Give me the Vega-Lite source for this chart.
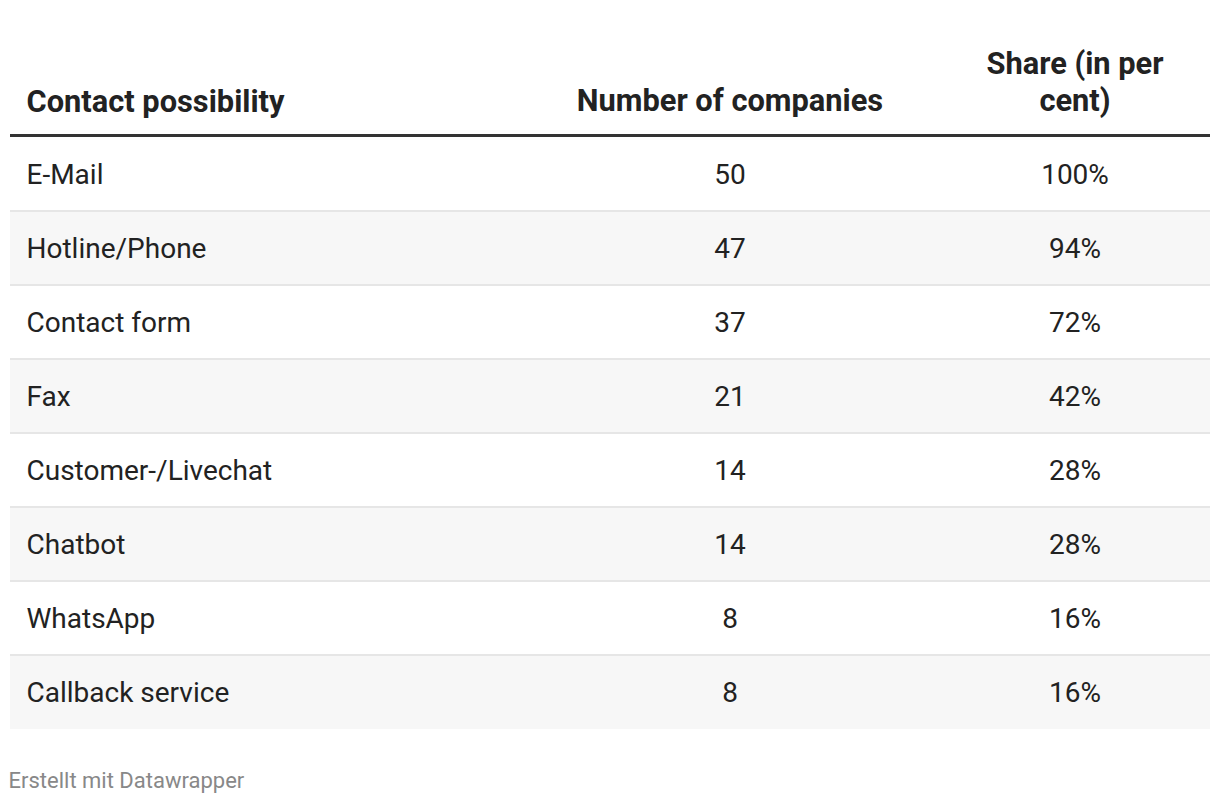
{
  "$schema": "https://vega.github.io/schema/vega-lite/v6.json",
  "autosize": "none",
  "width": 1200,
  "height": 592,
  "padding": {"left": 10, "right": 10, "top": 137, "bottom": 75},
  "background": "#ffffff",
  "title": {
    "text": "Erstellt mit Datawrapper",
    "orient": "bottom",
    "anchor": "start",
    "offset": 42,
    "font": "Roboto",
    "fontSize": 22,
    "fontWeight": "normal",
    "color": "#888888"
  },
  "data": {
    "values": [
      {"possibility": "E-Mail", "companies": 50, "share": 1.00},
      {"possibility": "Hotline/Phone", "companies": 47, "share": 0.94},
      {"possibility": "Contact form", "companies": 37, "share": 0.72},
      {"possibility": "Fax", "companies": 21, "share": 0.42},
      {"possibility": "Customer-/Livechat", "companies": 14, "share": 0.28},
      {"possibility": "Chatbot", "companies": 14, "share": 0.28},
      {"possibility": "WhatsApp", "companies": 8, "share": 0.16},
      {"possibility": "Callback service", "companies": 8, "share": 0.16}
    ]
  },
  "transform": [
    {"window": [{"op": "row_number", "as": "rank"}]}
  ],
  "encoding": {
    "y": {
      "field": "possibility",
      "type": "nominal",
      "sort": null,
      "scale": {"type": "band", "paddingInner": 0, "paddingOuter": 0},
      "axis": {
        "orient": "left",
        "domain": false,
        "ticks": false,
        "tickSize": 0,
        "grid": false,
        "labelPadding": -16,
        "labelOffset": 2,
        "labelAlign": "left",
        "labelBaseline": "middle",
        "labelFont": "Roboto",
        "labelFontSize": 28,
        "labelColor": "#222222",
        "labelLimit": 1000,
        "zindex": 1,
        "title": "Contact possibility",
        "titleAngle": 0,
        "titleAlign": "left",
        "titleBaseline": "alphabetic",
        "titleX": 16,
        "titleY": -26,
        "titleFont": "Roboto",
        "titleFontSize": 30.8,
        "titleFontWeight": "bold",
        "titleColor": "#222222"
      }
    }
  },
  "layer": [
    {
      "mark": {"type": "rect"},
      "encoding": {
        "fill": {
          "condition": {"test": "datum.rank % 2 === 0", "value": "#f7f7f7"},
          "value": "#ffffff"
        }
      }
    },
    {
      "transform": [{"filter": "datum.rank > 1"}],
      "mark": {"type": "rule", "color": "#e6e6e6", "strokeWidth": 2},
      "encoding": {
        "y": {"field": "possibility", "type": "nominal", "sort": null, "bandPosition": 0}
      }
    },
    {
      "transform": [{"filter": "datum.rank === 1"}],
      "mark": {"type": "rule", "color": "#333333", "strokeWidth": 3, "yOffset": -1.5},
      "encoding": {
        "y": {"field": "possibility", "type": "nominal", "sort": null, "bandPosition": 0}
      }
    },
    {
      "mark": {"type": "text", "font": "Roboto", "fontSize": 28, "color": "#222222", "align": "center", "baseline": "middle", "dy": 2},
      "encoding": {
        "x": {
          "datum": "Number of companies",
          "type": "nominal",
          "scale": {
            "type": "band",
            "domain": ["Number of companies", "Share (in per cent)"],
            "range": [547.5, 1237.5],
            "paddingInner": 0,
            "paddingOuter": 0
          },
          "axis": {
            "orient": "top",
            "domain": false,
            "ticks": false,
            "tickSize": 0,
            "grid": false,
            "labelAngle": 0,
            "labelPadding": {
              "condition": {"test": "datum.value === 'Share (in per cent)'", "value": 58},
              "value": 21
            },
            "labelFont": "Roboto",
            "labelFontSize": 30.8,
            "labelFontWeight": "bold",
            "labelColor": "#222222",
            "labelLimit": 1000,
            "labelLineHeight": 37,
            "labelBaseline": "bottom",
            "labelExpr": "datum.value === 'Share (in per cent)' ? ['Share (in per', 'cent)'] : datum.value",
            "title": null,
            "zindex": 1
          }
        },
        "text": {"field": "companies", "type": "quantitative"}
      }
    },
    {
      "mark": {"type": "text", "font": "Roboto", "fontSize": 28, "color": "#222222", "align": "center", "baseline": "middle", "dy": 2},
      "encoding": {
        "x": {"datum": "Share (in per cent)", "type": "nominal"},
        "text": {"field": "share", "type": "quantitative", "format": ".0%"}
      }
    }
  ],
  "config": {
    "view": {"stroke": null}
  }
}
